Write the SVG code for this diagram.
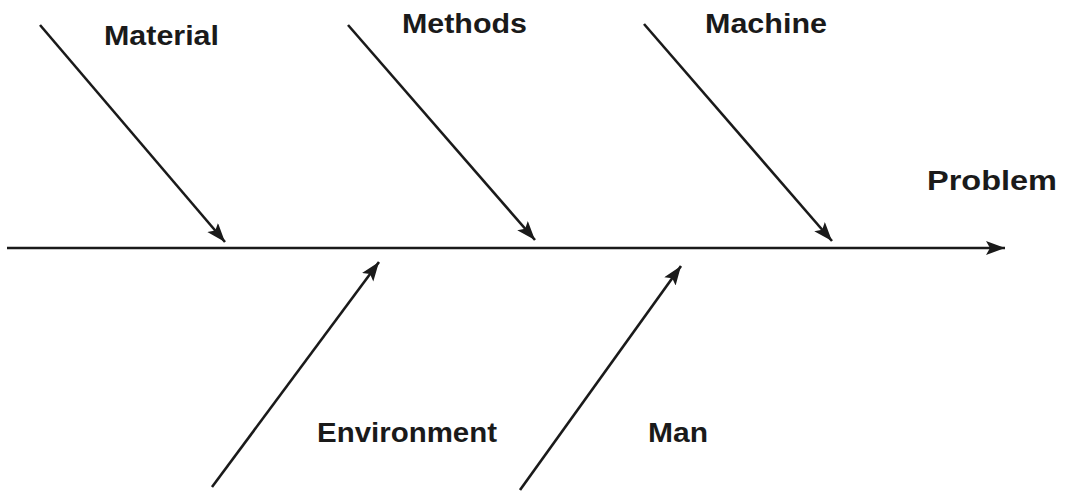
<svg xmlns="http://www.w3.org/2000/svg" width="1074" height="492" viewBox="0 0 1074 492">
<style>
.lbl{font-family:"Liberation Sans",Arial,sans-serif;font-weight:bold;font-size:27px;fill:#1a1a1a}
.ln{stroke:#1a1a1a;stroke-width:2.6;fill:none;marker-end:url(#ah)}
</style>
<defs>
<marker id="ah" markerUnits="userSpaceOnUse" markerWidth="22" markerHeight="16" refX="19" refY="7" orient="auto">
<path d="M0,0 L19,7 L0,14 L4,7 Z" fill="#1a1a1a"/>
</marker>
</defs>
<rect width="1074" height="492" fill="#ffffff"/>
<g id="connectors">
<line class="ln" x1="7" y1="248" x2="1005" y2="248"/>
<line class="ln" x1="40" y1="25" x2="225" y2="242"/>
<line class="ln" x1="348" y1="25" x2="535" y2="240"/>
<line class="ln" x1="644" y1="24" x2="832" y2="241"/>
<line class="ln" x1="212" y1="487" x2="379" y2="262"/>
<line class="ln" x1="520" y1="490" x2="681" y2="266"/>
</g>
<g id="material"><text class="lbl" x="104" y="45" textLength="115" lengthAdjust="spacingAndGlyphs">Material</text></g>
<g id="methods"><text class="lbl" x="402" y="33" textLength="125" lengthAdjust="spacingAndGlyphs">Methods</text></g>
<g id="machine"><text class="lbl" x="705" y="33" textLength="122" lengthAdjust="spacingAndGlyphs">Machine</text></g>
<g id="problem"><text class="lbl" x="927" y="190" textLength="130" lengthAdjust="spacingAndGlyphs">Problem</text></g>
<g id="environment"><text class="lbl" x="317" y="442" textLength="180" lengthAdjust="spacingAndGlyphs">Environment</text></g>
<g id="man"><text class="lbl" x="648" y="442" textLength="60" lengthAdjust="spacingAndGlyphs">Man</text></g>
</svg>
